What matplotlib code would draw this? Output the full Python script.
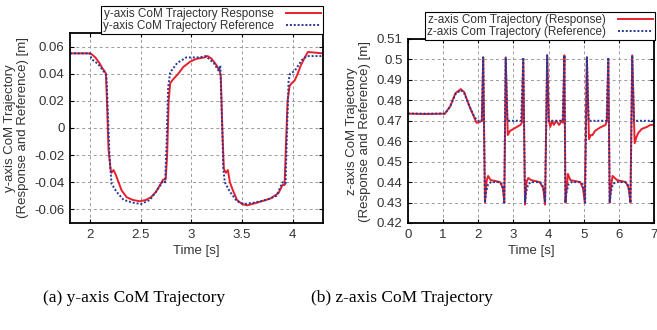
"""Two-panel CoM trajectory plot (y-axis and z-axis), gnuplot look."""

import matplotlib
matplotlib.use("Agg")
from matplotlib import pyplot as plt

# y-axis CoM trajectory [m]
t_y_ref = [1.80, 2.00, 2.01, 2.08, 2.15, 2.16, 2.17, 2.19, 2.21, 2.26, 2.33, 2.42, 2.50, 2.59, 2.66, 2.72,
           2.74, 2.755, 2.77, 2.79, 2.86, 2.95, 3.08, 3.14, 3.22, 3.27, 3.285, 3.30, 3.315, 3.33, 3.38, 3.45,
           3.52, 3.62, 3.74, 3.84, 3.90, 3.93, 3.945, 3.96, 3.975, 4.02, 4.09, 4.14, 4.30]
y_ref = [0.055, 0.055, 0.051, 0.047, 0.040, 0.038, 0.020, -0.020, -0.041, -0.047, -0.053, -0.055, -0.056, -0.053,
         -0.046, -0.039, -0.040, -0.010, 0.030, 0.041, 0.048, 0.052, 0.052, 0.053, 0.048, 0.042, 0.046, 0.010,
         -0.030, -0.040, -0.047, -0.054, -0.056, -0.055, -0.053, -0.050, -0.040, -0.041, 0.000, 0.035, 0.040,
         0.042, 0.050, 0.053, 0.053]

t_y_resp = [1.80, 2.00, 2.02, 2.05, 2.09, 2.12, 2.14, 2.155, 2.165, 2.18, 2.20, 2.21, 2.23, 2.25, 2.28, 2.31,
            2.36, 2.42, 2.49, 2.55, 2.60, 2.65, 2.69, 2.72, 2.745, 2.76, 2.775, 2.79, 2.82, 2.87, 2.92, 2.99,
            3.05, 3.13, 3.16, 3.20, 3.25, 3.28, 3.29, 3.305, 3.32, 3.34, 3.36, 3.38, 3.41, 3.45, 3.50, 3.55,
            3.65, 3.78, 3.86, 3.90, 3.92, 3.935, 3.95, 3.97, 3.99, 4.02, 4.05, 4.08, 4.12, 4.15, 4.30]
y_resp = [0.055, 0.055, 0.054, 0.052, 0.048, 0.044, 0.042, 0.040, 0.020, -0.015, -0.030, -0.033, -0.031, -0.034,
          -0.040, -0.046, -0.051, -0.053, -0.054, -0.053, -0.051, -0.047, -0.042, -0.038, -0.038, -0.020, 0.020,
          0.033, 0.036, 0.040, 0.045, 0.049, 0.051, 0.052, 0.053, 0.051, 0.046, 0.042, 0.038, 0.000, -0.030,
          -0.033, -0.031, -0.040, -0.046, -0.053, -0.056, -0.057, -0.055, -0.052, -0.048, -0.042, -0.042, -0.010,
          0.020, 0.031, 0.033, 0.035, 0.040, 0.046, 0.052, 0.056, 0.055]

# z-axis CoM trajectory [m]
t_z_ref = [0, 1.05, 1.2, 1.35, 1.5, 1.6, 1.75, 1.9, 2.0, 2.10, 2.14, 2.19, 2.22, 2.28, 2.36, 2.60, 2.67, 2.72,
           2.74, 2.78, 2.83, 3.22, 3.28, 3.33, 3.36, 3.42, 3.50, 3.75, 3.82, 3.87, 3.90, 3.96, 4.00, 4.40, 4.45,
           4.48, 4.51, 4.57, 4.65, 4.90, 4.97, 5.01, 5.04, 5.09, 5.14, 5.65, 5.70, 5.74, 5.77, 5.83, 5.91, 6.18,
           6.25, 6.30, 6.33, 6.38, 6.43, 7.0]
z_ref = [0.4735, 0.4735, 0.477, 0.483, 0.485, 0.4835, 0.477, 0.4715, 0.470, 0.470, 0.501, 0.430, 0.435, 0.439,
         0.440, 0.440, 0.439, 0.435, 0.430, 0.501, 0.470, 0.470, 0.501, 0.430, 0.435, 0.439, 0.440, 0.440, 0.439,
         0.435, 0.430, 0.502, 0.470, 0.470, 0.502, 0.430, 0.435, 0.439, 0.440, 0.440, 0.439, 0.435, 0.430, 0.501,
         0.470, 0.470, 0.501, 0.430, 0.435, 0.439, 0.440, 0.440, 0.439, 0.435, 0.430, 0.502, 0.470, 0.470]

t_z_resp = [0, 0.5, 1.05, 1.2, 1.35, 1.5, 1.6, 1.75, 1.95, 2.05, 2.10, 2.14, 2.19, 2.24, 2.28, 2.35, 2.50,
            2.62, 2.70, 2.74, 2.78, 2.84, 2.90, 3.00, 3.10, 3.20, 3.24, 3.28, 3.33, 3.37, 3.42, 3.50, 3.75, 3.85,
            3.90, 3.96, 4.01, 4.05, 4.10, 4.15, 4.22, 4.30, 4.38, 4.41, 4.45, 4.48, 4.52, 4.55, 4.62, 4.90, 4.98,
            5.03, 5.09, 5.15, 5.20, 5.25, 5.32, 5.40, 5.50, 5.62, 5.66, 5.70, 5.74, 5.78, 5.82, 5.95, 6.20, 6.28,
            6.33, 6.38, 6.45, 6.50, 6.55, 6.65, 6.80, 6.90, 7.0]
z_resp = [0.4735, 0.4733, 0.4735, 0.477, 0.4835, 0.4855, 0.4840, 0.477, 0.469, 0.4695, 0.470, 0.501, 0.430,
          0.441, 0.443, 0.441, 0.4405, 0.440, 0.437, 0.430, 0.501, 0.463, 0.465, 0.466, 0.467, 0.468, 0.469,
          0.500, 0.429, 0.440, 0.442, 0.441, 0.440, 0.437, 0.429, 0.502, 0.470, 0.467, 0.470, 0.468, 0.470,
          0.468, 0.470, 0.469, 0.502, 0.430, 0.438, 0.444, 0.441, 0.440, 0.437, 0.430, 0.501, 0.461, 0.463,
          0.463, 0.465, 0.466, 0.467, 0.468, 0.470, 0.500, 0.430, 0.438, 0.443, 0.441, 0.440, 0.437, 0.430,
          0.502, 0.459, 0.462, 0.464, 0.466, 0.467, 0.468, 0.468]

y_ticks = [-0.06, -0.04, -0.02, 0, 0.02, 0.04, 0.06]
y_tick_labels = ['-0.06', '-0.04', '-0.02', '0', '0.02', '0.04', '0.06']
z_ticks = [0.42, 0.43, 0.44, 0.45, 0.46, 0.47, 0.48, 0.49, 0.50, 0.51]
z_tick_labels = ['0.42', '0.43', '0.44', '0.45', '0.46', '0.47', '0.48', '0.49', '0.5', '0.51']

red = '#e8202a'
blue = '#23379a'
text_color = '#333333'

plt.rcParams['font.family'] = ['Liberation Sans', 'DejaVu Sans']
plt.rcParams['font.size'] = 9

fig = plt.figure(figsize=(6.57, 3.30), dpi=100)
ax_y = fig.add_axes([70 / 657, 1 - 223 / 330, 253 / 657, 190 / 330])
ax_z = fig.add_axes([408 / 657, 1 - 223 / 330, 246 / 657, 184 / 330])


def style_axes(ax):
    ax.grid(True, color='#9a9a9a', linestyle=(0, (3, 3)), linewidth=0.7)
    ax.set_axisbelow(True)
    for spine in ax.spines.values():
        spine.set_linewidth(1.3)
        spine.set_color('black')
    ax.tick_params(direction='in', top=True, right=True, length=3, width=0.8,
                   labelsize=9.5, labelcolor=text_color, pad=4)


ax_y.plot(t_y_resp, y_resp, color=red, linewidth=1.4, label='y-axis CoM Trajectory Response')
ax_y.plot(t_y_ref, y_ref, color=blue, linewidth=1.4, linestyle=(0, (1, 1)), label='y-axis CoM Trajectory Reference')
ax_y.set_xlim(1.8, 4.3)
ax_y.set_ylim(-0.07, 0.07)
ax_y.set_xticks([2, 2.5, 3, 3.5, 4])
ax_y.set_xticklabels(['2', '2.5', '3', '3.5', '4'])
ax_y.set_yticks(y_ticks)
ax_y.set_yticklabels(y_tick_labels)
ax_y.set_xlabel('Time [s]', color=text_color, fontsize=9.5, labelpad=3)
ax_y.set_ylabel('y-axis CoM Trajectory\n(Response and Reference) [m]', color=text_color, fontsize=9.5,
                linespacing=1.1, labelpad=4)
style_axes(ax_y)

ax_z.plot(t_z_resp, z_resp, color=red, linewidth=1.4, label='z-axis Com Trajectory (Response)')
ax_z.plot(t_z_ref, z_ref, color=blue, linewidth=1.4, linestyle=(0, (1, 1)), label='z-axis Com Trajectory (Reference)')
ax_z.set_xlim(0, 7)
ax_z.set_ylim(0.42, 0.51)
ax_z.set_xticks(range(8))
ax_z.set_yticks(z_ticks)
ax_z.set_yticklabels(z_tick_labels)
ax_z.set_xlabel('Time [s]', color=text_color, fontsize=9.5, labelpad=3)
ax_z.set_ylabel('z-axis CoM Trajectory\n(Response and Reference) [m]', color=text_color, fontsize=9.5,
                linespacing=1.1, labelpad=4)
style_axes(ax_z)

for ax, anchor in ((ax_y, (323 / 657, 1 - 6 / 330)), (ax_z, (655 / 657, 1 - 12 / 330))):
    leg = ax.legend(loc='upper right', bbox_to_anchor=anchor, bbox_transform=fig.transFigure,
                    markerfirst=False, fancybox=False, framealpha=1, edgecolor='black',
                    fontsize=8.5, handlelength=3.0, handletextpad=1.0, labelspacing=0.05,
                    borderpad=0.15, borderaxespad=0)
    leg.get_frame().set_linewidth(0.8)
    for txt in leg.get_texts():
        txt.set_color(text_color)

fig.text(134 / 657, 1 - 298 / 330, '(a) y-axis CoM Trajectory', ha='center', va='center',
         family='Liberation Serif', fontsize=12.5)
fig.text(402 / 657, 1 - 298 / 330, '(b) z-axis CoM Trajectory', ha='center', va='center',
         family='Liberation Serif', fontsize=12.5)

fig.savefig('out.png', dpi=100)
